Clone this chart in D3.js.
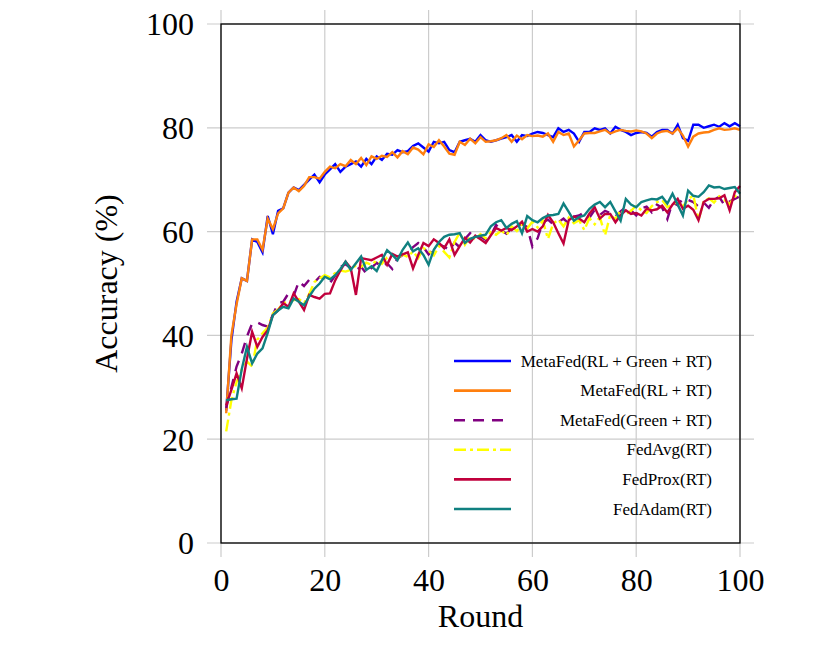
<!DOCTYPE html>
<html>
<head>
<meta charset="utf-8">
<script src="https://cdn.jsdelivr.net/npm/d3@7"></script>
<style>
  body { margin: 0; background: #fff; }
  text { font-family: "Liberation Serif", "DejaVu Serif", serif; fill: #000; }
</style>
</head>
<body>
<div id="chart"></div>
<script>
// data, rounds 1..100
var rounds = d3.range(1, 101);

var metaFedAll = [25.5, 39, 46.5, 51, 50.5, 58.5, 58, 56, 63, 59.5,
  64, 64.5, 67.5, 68.5, 68, 69, 70, 71, 69.5, 71,
  72, 73, 71.5, 72.5, 73, 73.5, 72.5, 74, 73, 74.5,
  73.8, 75, 74.8, 75.7, 75.3, 75.5, 76.5, 77, 76.2, 75.4,
  77.3, 77, 77.3, 75.7, 75.3, 77.3, 77.6, 77.9, 77.3, 78.6,
  77.6, 77.3, 77.6, 77.9, 78.2, 78.6, 77.3, 78.6, 78.4, 78.9,
  79.2, 79, 78.6, 78.2, 79.9, 79.2, 79.6, 78.9, 77.3, 79.2,
  79.2, 79.9, 79.6, 79.9, 78.9, 80.2, 79.6, 79.2, 78.6, 79,
  79.2, 79, 78.3, 79.2, 79.6, 79.6, 78.9, 80.6, 78, 77.5,
  80.6, 80.6, 80, 80.3, 80.6, 80.2, 80.9, 80.3, 80.9, 80.3];

var metaFedRL = [25, 40, 46, 51, 50.5, 58.5, 58.5, 56.5, 62.5, 60.5,
  63.5, 64.5, 67.5, 68.5, 67.8, 68.8, 70.5, 70.5, 70.2, 71.5,
  72.5, 72.2, 73, 72.6, 73.8, 73, 74.2, 72.8, 74.5, 74,
  74.6, 74.4, 75.3, 74.3, 75.5, 74.9, 76.2, 75.8, 74.9, 76.8,
  76.3, 77.6, 76.4, 75, 74.8, 77.3, 76.7, 77.9, 77, 78.2,
  77.3, 77.4, 77.6, 78, 78.6, 77.3, 78.5, 77.8, 78.6, 78.4,
  78.5, 78.3, 78.9, 77.3, 79.2, 78.6, 78.9, 76.4, 77.6, 78.9,
  79, 79, 79.3, 79.6, 78.9, 79.3, 79.6, 79.4, 79.3, 79.5,
  79.3, 78.9, 78, 78.9, 79.3, 79.4, 78.9, 79.9, 78.5, 76.4,
  78.3, 78.9, 79.1, 79.2, 79.6, 79.9, 79.6, 79.7, 79.9, 79.6];

var metaFedGreen = [26, 30, 34, 36.5, 39.8, 42.3, 42.5, 42, 41.7, 44,
  46.2, 46.5, 48.1, 47.6, 50.4, 49.5, 50.7, 50.2, 51.3, 51,
  50.1, 51.5, 53.2, 53.7, 53, 52.6, 53.2, 51.9, 53, 54,
  53.2, 53.9, 52.8, 54.8, 55.5, 56, 57, 57.8, 57, 55.6,
  56.6, 57.5, 57.1, 56.4, 57.9, 57, 58.6, 59.7, 58.8, 59,
  58.4, 59.2, 61.3, 60.2, 59.6, 60.6, 60.9, 61.5, 60.9, 57.1,
  58.7, 61.8, 62.3, 61.4, 61.8, 62.5, 61.5, 62.9, 63.1, 63.7,
  62.7, 64.2, 63.2, 64, 63.6, 62.9, 63.9, 64.7, 64.1, 63.1,
  64.5, 64.8, 63.7, 65.2, 64.6, 62.4, 65.6, 65.1, 66.3, 66.1,
  65.7, 64.8, 65.6, 64.6, 66.2, 66.7, 65.1, 65.8, 66.3, 66.8];

var fedAvg = [21.5, 27.5, 31, 33.4, 35, 34, 39.2, 40.4, 41.5, 44.2,
  45, 46.2, 46.5, 46.8, 47, 46.2, 48, 50.3, 51, 51.6,
  51.2, 52, 52.5, 52.3, 52.6, 53.5, 53.2, 54, 53.6, 54.5,
  53.8, 55, 55.4, 54.9, 55.6, 55.1, 56.2, 54.9, 56.8, 56.3,
  55.4, 57.2, 56.1, 55, 58, 59.8, 57.5, 59.1, 58.5, 59.5,
  58.7, 59.9, 59.4, 60.2, 59.3, 61, 60.1, 61.4, 60.6, 61.9,
  60.8, 62.1, 58.6, 61.5, 62.3, 61, 62.7, 61.6, 62.2, 60.3,
  62.6, 61.4, 62.8, 59.3, 63.2, 62.4, 64.2, 63.3, 64, 65,
  64.1, 63.6, 64.9, 65.7, 66.1, 64.7, 65.2, 65.8, 64.8, 66.2,
  67, 62.2, 65.9, 66.4, 65.6, 66.8, 66.1, 65.3, 66.9, 66.2];

var fedProx = [26.5, 29.5, 32.7, 29.8, 35.5, 40.7, 37.8, 39.7, 41, 43.9,
  44.8, 46.2, 45.5, 48.1, 46.5, 44.9, 47.8, 47.4, 47.1, 48,
  48.1, 50.6, 52.5, 54.2, 53, 47.8, 54.9, 54.7, 54.5, 55,
  55.5, 53.6, 55.7, 55.2, 55.6, 56, 52.9, 55.5, 57.8, 57.2,
  58.5, 57.8, 56.8, 58.5, 55.5, 57.2, 58.8, 57.9, 59.2, 58.5,
  57.8, 59.3, 60.7, 60.2, 60.7, 60.3, 61, 61.9, 60, 60.5,
  60, 61, 63.2, 61.8, 59.7, 57.7, 62.2, 62.9, 62.5, 61.8,
  63.5, 64.7, 62.5, 63.4, 63.4, 61.8, 63.2, 64.1, 63.4, 63.6,
  63.1, 64.4, 64.1, 64.3, 65, 63.7, 65.2, 66.3, 64.4, 65,
  64.2, 62.2, 65.7, 66.3, 66.3, 66.4, 67, 64.1, 67.6, 68.8];

var fedAdam = [27.5, 27.7, 27.8, 33.5, 37.8, 34.6, 36.5, 37.5, 40.5, 43.9,
  44.8, 45.5, 45.2, 47.1, 46.5, 45.8, 47.5, 49, 50, 51.3,
  50.8, 51.6, 52.8, 54.2, 52.6, 53.9, 55.2, 52.6, 53.3, 52.4,
  54.5, 56.4, 55.5, 54.5, 56.5, 57.9, 56.2, 56.8, 55.5, 53.6,
  56.5, 58, 59, 59.4, 59.5, 59.7, 57.8, 58.6, 59, 59.2,
  59.4, 61, 61.8, 62.2, 60.7, 61.5, 62, 59.7, 63, 62.2,
  61.8, 62.6, 63.1, 63.2, 63.4, 65.4, 63.8, 62.1, 62.8, 63.1,
  64.4, 65.2, 65.7, 64.7, 65.7, 63.9, 62.1, 66.3, 65.2, 64.7,
  65.7, 66, 66.3, 66.2, 66.7, 65.4, 67.3, 65.2, 63.1, 67.9,
  66.9, 66.7, 67.6, 68.9, 68.5, 68.6, 68.2, 68.4, 68.6, 67.3];

var seriesNames = ["MetaFed(RL + Green + RT)", "MetaFed(RL + RT)", "MetaFed(Green + RT)",
  "FedAvg(RT)", "FedProx(RT)", "FedAdam(RT)"];
var seriesValues = [metaFedAll, metaFedRL, metaFedGreen, fedAvg, fedProx, fedAdam];
var seriesColors = ["#0000ff", "#ff7f0e", "#800080", "#ffff00", "#c0003c", "#108080"];
var seriesDashes = [null, null, "11,8", "12,4,3,4", null, null];

var xTicks = [0, 20, 40, 60, 80, 100];
var yTicks = [0, 20, 40, 60, 80, 100];

var svgWidth = 829;
var svgHeight = 657;

var margin = { top: 24, right: 89, bottom: 114, left: 221 };
var width = svgWidth - margin.left - margin.right;
var height = svgHeight - margin.top - margin.bottom;

var svg = d3.select("#chart")
  .append("svg")
  .attr("width", svgWidth)
  .attr("height", svgHeight);

var chartGroup = svg.append("g")
  .attr("transform", `translate(${margin.left}, ${margin.top})`);

var xScale = d3.scaleLinear().domain([0, 100]).range([0, width]);
var yScale = d3.scaleLinear().domain([0, 100]).range([height, 0]);

// grid lines, running a little past the frame like pgfplots ticks
var tickOut = 14;
chartGroup.append("g")
  .selectAll("line")
  .data(xTicks)
  .enter()
  .append("line")
  .attr("x1", d => xScale(d))
  .attr("x2", d => xScale(d))
  .attr("y1", -tickOut)
  .attr("y2", height + tickOut)
  .attr("stroke", "#cccccc")
  .attr("stroke-width", 1.2);

chartGroup.append("g")
  .selectAll("line")
  .data(yTicks)
  .enter()
  .append("line")
  .attr("x1", -tickOut)
  .attr("x2", width + tickOut)
  .attr("y1", d => yScale(d))
  .attr("y2", d => yScale(d))
  .attr("stroke", "#cccccc")
  .attr("stroke-width", 1.2);

// axes labels through d3 axes, with no domain/tick lines of their own
var bottomAxis = d3.axisBottom(xScale).tickValues(xTicks).tickSize(0).tickPadding(37);
var leftAxis = d3.axisLeft(yScale).tickValues(yTicks).tickSize(0).tickPadding(27);

var xAxis = chartGroup.append("g")
  .attr("transform", `translate(0, ${height})`)
  .call(bottomAxis);
var yAxis = chartGroup.append("g")
  .call(leftAxis);

[xAxis, yAxis].forEach(function(ax) {
  ax.select(".domain").remove();
  ax.selectAll("text")
    .attr("font-family", "'Liberation Serif', 'DejaVu Serif', serif")
    .attr("font-size", 32)
    .attr("fill", "#000");
});
yAxis.selectAll("text").attr("dy", "0.34em");
xAxis.selectAll("text").attr("dy", "0.34em");

// the lines
var line = d3.line()
  .x((d, i) => xScale(rounds[i]))
  .y(d => yScale(d));

seriesValues.forEach(function(vals, i) {
  chartGroup.append("path")
    .datum(vals)
    .attr("d", line)
    .attr("fill", "none")
    .attr("stroke", seriesColors[i])
    .attr("stroke-width", 2.4)
    .attr("stroke-linejoin", "miter")
    .attr("stroke-dasharray", seriesDashes[i]);
});

// frame
chartGroup.append("rect")
  .attr("x", 0)
  .attr("y", 0)
  .attr("width", width)
  .attr("height", height)
  .attr("fill", "none")
  .attr("stroke", "#000")
  .attr("stroke-width", 1.3);

// legend (no box)
var legend = chartGroup.append("g")
  .attr("transform", `translate(${454 - margin.left}, ${361 - margin.top})`);

seriesNames.forEach(function(name, i) {
  var row = legend.append("g")
    .attr("transform", `translate(0, ${i * 29.6})`);
  row.append("line")
    .attr("x1", 0)
    .attr("x2", 57)
    .attr("y1", 0)
    .attr("y2", 0)
    .attr("stroke", seriesColors[i])
    .attr("stroke-width", 2.6)
    .attr("stroke-dasharray", seriesDashes[i]);
  row.append("text")
    .attr("x", 712 - 454)
    .attr("y", 0)
    .attr("dy", "0.33em")
    .attr("text-anchor", "end")
    .attr("font-size", 17)
    .text(name);
});

// axis titles
svg.append("text")
  .attr("x", margin.left + width / 2)
  .attr("y", 627)
  .attr("text-anchor", "middle")
  .attr("font-size", 32)
  .text("Round");

svg.append("text")
  .attr("transform", `translate(117, ${margin.top + height / 2}) rotate(-90)`)
  .attr("text-anchor", "middle")
  .attr("font-size", 32)
  .text("Accuracy (%)");
</script>
</body>
</html>
